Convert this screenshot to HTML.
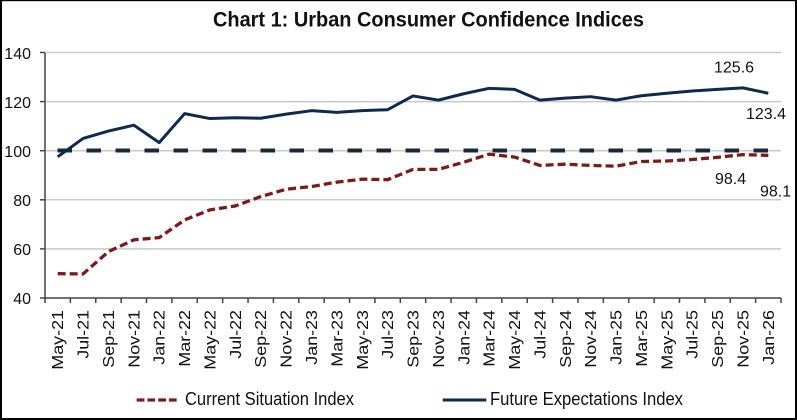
<!DOCTYPE html>
<html>
<head>
<meta charset="utf-8">
<style>
html,body{margin:0;padding:0;background:#fff;}
svg{display:block;}
text{font-family:"Liberation Sans",Arial,sans-serif;fill:#111;}
</style>
</head>
<body>
<svg width="797" height="420" viewBox="0 0 797 420" xmlns="http://www.w3.org/2000/svg">
<rect x="0" y="0" width="797" height="420" fill="#fff"/>
<!-- border -->
<rect x="0" y="0" width="2" height="420" fill="#000"/>
<rect x="0" y="0" width="797" height="1.2" fill="#000"/>
<rect x="795" y="0" width="2" height="420" fill="#000"/>
<rect x="0" y="418" width="797" height="2" fill="#000"/>

<!-- title -->
<text x="213" y="26.5" font-size="20" font-weight="bold" textLength="431" lengthAdjust="spacingAndGlyphs" transform="translate(0,26.5) scale(1,1.06) translate(0,-26.5)">Chart 1: Urban Consumer Confidence Indices</text>

<!-- gridlines -->
<g stroke="#c8c8c8" stroke-width="1.5">
<line x1="46" y1="52.5" x2="781" y2="52.5"/>
<line x1="46" y1="101.6" x2="781" y2="101.6"/>
<line x1="46" y1="150.7" x2="781" y2="150.7"/>
<line x1="46" y1="199.8" x2="781" y2="199.8"/>
<line x1="46" y1="248.9" x2="781" y2="248.9"/>
</g>

<!-- axes -->
<g stroke="#444" stroke-width="1.5">
<line x1="45" y1="52.5" x2="45" y2="298.5"/>
<line x1="45" y1="298" x2="781" y2="298"/>
<line x1="40" y1="52.5" x2="45" y2="52.5"/>
<line x1="40" y1="101.6" x2="45" y2="101.6"/>
<line x1="40" y1="150.7" x2="45" y2="150.7"/>
<line x1="40" y1="199.8" x2="45" y2="199.8"/>
<line x1="40" y1="248.9" x2="45" y2="248.9"/>
<line x1="40" y1="298" x2="45" y2="298"/>
<path d="M45 298v5 M70.38 298v5 M95.76 298v5 M121.14 298v5 M146.52 298v5 M171.9 298v5 M197.28 298v5 M222.66 298v5 M248.04 298v5 M273.42 298v5 M298.8 298v5 M324.18 298v5 M349.56 298v5 M374.94 298v5 M400.32 298v5 M425.7 298v5 M451.08 298v5 M476.46 298v5 M501.84 298v5 M527.22 298v5 M552.6 298v5 M577.98 298v5 M603.36 298v5 M628.74 298v5 M654.12 298v5 M679.5 298v5 M704.88 298v5 M730.26 298v5 M755.64 298v5 M781.02 298v5" fill="none"/>
</g>

<!-- y labels -->
<g font-size="16" text-anchor="end">
<text x="31" y="59">140</text>
<text x="31" y="108">120</text>
<text x="31" y="157">100</text>
<text x="31" y="206">80</text>
<text x="31" y="255">60</text>
<text x="31" y="304">40</text>
</g>

<!-- x labels -->
<g font-size="16" text-anchor="end">
<text transform="translate(63.2,310) rotate(-90) scale(1.12,1)">May-21</text>
<text transform="translate(88.6,310) rotate(-90) scale(1.12,1)">Jul-21</text>
<text transform="translate(114,310) rotate(-90) scale(1.12,1)">Sep-21</text>
<text transform="translate(139.3,310) rotate(-90) scale(1.12,1)">Nov-21</text>
<text transform="translate(164.7,310) rotate(-90) scale(1.12,1)">Jan-22</text>
<text transform="translate(190.1,310) rotate(-90) scale(1.12,1)">Mar-22</text>
<text transform="translate(215.5,310) rotate(-90) scale(1.12,1)">May-22</text>
<text transform="translate(240.9,310) rotate(-90) scale(1.12,1)">Jul-22</text>
<text transform="translate(266.2,310) rotate(-90) scale(1.12,1)">Sep-22</text>
<text transform="translate(291.6,310) rotate(-90) scale(1.12,1)">Nov-22</text>
<text transform="translate(317,310) rotate(-90) scale(1.12,1)">Jan-23</text>
<text transform="translate(342.4,310) rotate(-90) scale(1.12,1)">Mar-23</text>
<text transform="translate(367.8,310) rotate(-90) scale(1.12,1)">May-23</text>
<text transform="translate(393.1,310) rotate(-90) scale(1.12,1)">Jul-23</text>
<text transform="translate(418.5,310) rotate(-90) scale(1.12,1)">Sep-23</text>
<text transform="translate(443.9,310) rotate(-90) scale(1.12,1)">Nov-23</text>
<text transform="translate(469.3,310) rotate(-90) scale(1.12,1)">Jan-24</text>
<text transform="translate(494.7,310) rotate(-90) scale(1.12,1)">Mar-24</text>
<text transform="translate(520,310) rotate(-90) scale(1.12,1)">May-24</text>
<text transform="translate(545.4,310) rotate(-90) scale(1.12,1)">Jul-24</text>
<text transform="translate(570.8,310) rotate(-90) scale(1.12,1)">Sep-24</text>
<text transform="translate(596.2,310) rotate(-90) scale(1.12,1)">Nov-24</text>
<text transform="translate(621.6,310) rotate(-90) scale(1.12,1)">Jan-25</text>
<text transform="translate(646.9,310) rotate(-90) scale(1.12,1)">Mar-25</text>
<text transform="translate(672.3,310) rotate(-90) scale(1.12,1)">May-25</text>
<text transform="translate(697.7,310) rotate(-90) scale(1.12,1)">Jul-25</text>
<text transform="translate(723.1,310) rotate(-90) scale(1.12,1)">Sep-25</text>
<text transform="translate(748.5,310) rotate(-90) scale(1.12,1)">Nov-25</text>
<text transform="translate(773.8,310) rotate(-90) scale(1.12,1)">Jan-26</text>
</g>

<!-- 100 reference dashed line -->
<line x1="57.5" y1="150.5" x2="769" y2="150.5" stroke="#1b2838" stroke-width="4" stroke-dasharray="14.5 14.5"/>

<!-- Current Situation Index -->
<polyline fill="none" stroke="#7d1a1a" stroke-width="3.3" stroke-dasharray="8 4" stroke-linejoin="round"
points="57.69,273.70 83.07,273.94 108.45,251.60 133.83,239.82 159.21,237.61 184.59,219.93 209.97,209.87 235.35,205.94 260.73,196.61 286.11,189.24 311.49,186.54 336.87,182.12 362.25,179.18 387.63,179.67 413.01,169.36 438.39,169.36 463.77,162.24 489.15,154.14 514.53,157.08 539.91,165.43 565.29,164.20 590.67,165.43 616.05,166.17 641.43,161.50 666.81,161.01 692.19,159.54 717.57,157.33 742.95,154.63 768.33,155.36"/>

<!-- Future Expectations Index -->
<polyline fill="none" stroke="#0e2a4f" stroke-width="3" stroke-linejoin="round"
points="57.69,156.84 83.07,138.42 108.45,131.06 133.83,125.17 159.21,142.60 184.59,113.63 209.97,118.54 235.35,117.80 260.73,118.29 286.11,114.12 311.49,110.68 336.87,112.40 362.25,110.68 387.63,109.70 413.01,95.95 438.39,100.13 463.77,93.74 489.15,88.34 514.53,89.32 539.91,100.13 565.29,98.16 590.67,96.69 616.05,100.13 641.43,95.71 666.81,93.25 692.19,91.04 717.57,89.32 742.95,87.85 768.33,93.25"/>

<!-- annotations -->
<g font-size="16">
<text x="714" y="72.5">125.6</text>
<text x="746" y="119">123.4</text>
<text x="715" y="184">98.4</text>
<text x="760" y="196.5">98.1</text>
</g>

<!-- legend -->
<line x1="136.7" y1="400" x2="176.7" y2="400" stroke="#7d1a1a" stroke-width="3.3" stroke-dasharray="7.75 3"/>
<text x="185" y="405" font-size="16.5" textLength="169" lengthAdjust="spacingAndGlyphs" transform="translate(0,405) scale(1,1.12) translate(0,-405)">Current Situation Index</text>
<line x1="442.7" y1="400" x2="486.3" y2="400" stroke="#0e2a4f" stroke-width="3"/>
<text x="490" y="405" font-size="16.5" textLength="193" lengthAdjust="spacingAndGlyphs" transform="translate(0,405) scale(1,1.12) translate(0,-405)">Future Expectations Index</text>
</svg>
</body>
</html>
